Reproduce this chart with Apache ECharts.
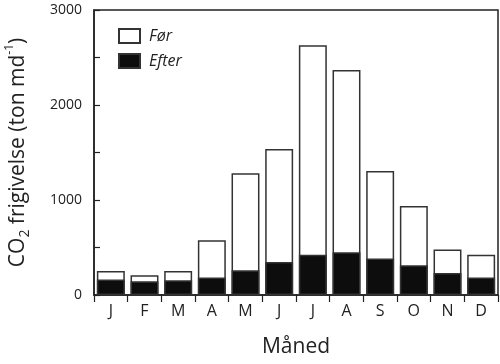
<!DOCTYPE html>
<html><head><meta charset="utf-8">
<script src="https://cdn.jsdelivr.net/npm/echarts@6/dist/echarts.min.js"></script>
<style>html,body{margin:0;padding:0;background:#fff}#c{width:500px;height:364px}</style>
</head><body><div id="c"></div>
<script>
const months = ['J','F','M','A','M','J','J','A','S','O','N','D'];
const forValues = [253, 207, 253, 576, 1281, 1537, 2629, 2369, 1305, 937, 478, 425];
const efterValues = [162, 144, 155, 183, 260, 347, 425, 450, 383, 313, 232, 183];
const yTicks = [0, 1000, 2000, 3000];

const chart = echarts.init(document.getElementById('c'));
const font = '"Open Sans", "Noto Sans", sans-serif';
chart.setOption({
  animation: false,
  grid: {left: 94, right: 2, top: 10, bottom: 69, containLabel: false, outerBoundsMode: 'none',
    show: true, borderColor: '#222', borderWidth: 1.5, backgroundColor: 'transparent'},
  legend: {
    orient: 'vertical', left: 113, top: 23, itemWidth: 21, itemHeight: 14, itemGap: 9,
    icon: 'rect',
    textStyle: {fontFamily: font, fontStyle: 'italic', fontSize: 16, color: '#222', padding: [0,0,0,4]},
    data: ['Før', 'Efter']
  },
  xAxis: {
    type: 'category', data: months,
    axisLine: {lineStyle: {color: '#222', width: 1.5}},
    axisTick: {show: true, length: 7, lineStyle: {color: '#222', width: 1.2}},
    axisLabel: {fontFamily: font, fontSize: 16, color: '#222', margin: 8},
    name: 'Måned', nameLocation: 'middle', nameGap: 42,
    nameTextStyle: {fontFamily: font, fontSize: 21, color: '#222'}
  },
  yAxis: {
    type: 'value', min: 0, max: 3000, interval: 500,
    splitLine: {show: false},
    axisLine: {show: true, lineStyle: {color: '#222', width: 1.5}},
    axisTick: {show: true, inside: true, length: 6, lineStyle: {color: '#222', width: 1.2}},
    axisLabel: {fontFamily: font, fontSize: 14, color: '#222', margin: 12,
      formatter: v => yTicks.includes(v) ? String(v) : ''},
    name: '{m|CO}{sub|2}{m| frigivelse (ton md}{sup|-1}{m|)}',
    nameLocation: 'middle', nameGap: 62, nameRotate: 90,
    nameTextStyle: {fontFamily: font, fontSize: 21, color: '#222',
      rich: {
        m: {fontFamily: font, fontSize: 21, color: '#222', lineHeight: 28, verticalAlign: 'middle'},
        sub: {fontFamily: font, fontSize: 14, color: '#222', lineHeight: 28, verticalAlign: 'bottom'},
        sup: {fontFamily: font, fontSize: 12, color: '#222', lineHeight: 28, verticalAlign: 'top'}
      }}
  },
  series: [
    {name: 'Før', type: 'bar', data: forValues, barWidth: '83%', barGap: '-100%',
     itemStyle: {color: '#fff', borderColor: '#333', borderWidth: 1.5}},
    {name: 'Efter', type: 'bar', data: efterValues, barWidth: '83%',
     itemStyle: {color: '#0d0d0d', borderColor: '#333', borderWidth: 1.5}}
  ]
});
</script></body></html>
